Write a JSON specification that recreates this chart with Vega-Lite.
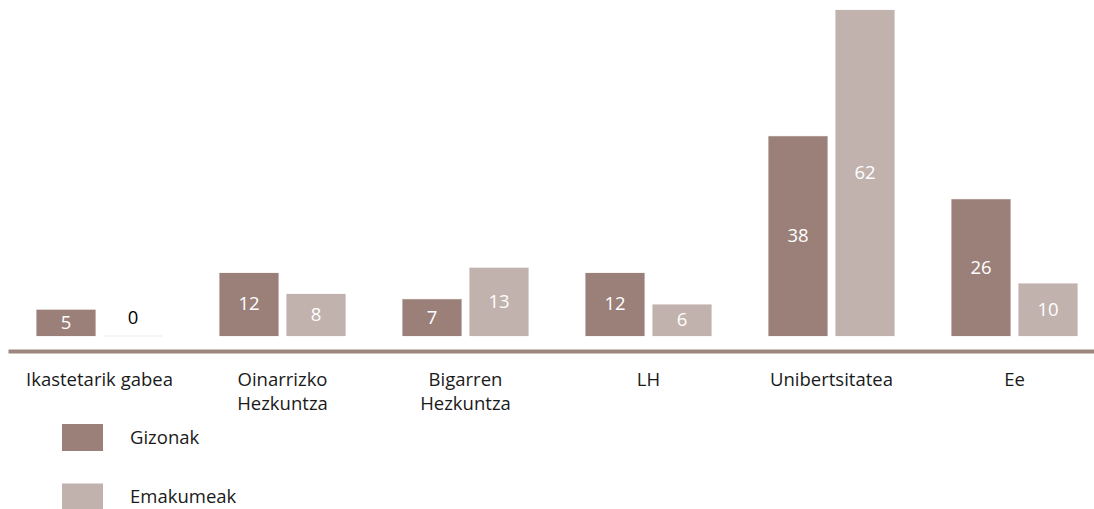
{
  "$schema": "https://vega.github.io/schema/vega-lite/v6.json",
  "width": 1086,
  "height": 326,
  "autosize": "none",
  "padding": {"left": 8, "top": 10, "right": 0, "bottom": 173},
  "background": "white",
  "config": {
    "view": {"stroke": null},
    "font": "Open Sans",
    "text": {"font": "Open Sans"}
  },
  "data": {
    "values": [
      {"maila": "Ikastetarik gabea", "sexua": "Gizonak", "v": 5},
      {"maila": "Ikastetarik gabea", "sexua": "Emakumeak", "v": 0},
      {"maila": "Oinarrizko Hezkuntza", "sexua": "Gizonak", "v": 12},
      {"maila": "Oinarrizko Hezkuntza", "sexua": "Emakumeak", "v": 8},
      {"maila": "Bigarren Hezkuntza", "sexua": "Gizonak", "v": 7},
      {"maila": "Bigarren Hezkuntza", "sexua": "Emakumeak", "v": 13},
      {"maila": "LH", "sexua": "Gizonak", "v": 12},
      {"maila": "LH", "sexua": "Emakumeak", "v": 6},
      {"maila": "Unibertsitatea", "sexua": "Gizonak", "v": 38},
      {"maila": "Unibertsitatea", "sexua": "Emakumeak", "v": 62},
      {"maila": "Ee", "sexua": "Gizonak", "v": 26},
      {"maila": "Ee", "sexua": "Emakumeak", "v": 10}
    ]
  },
  "encoding": {
    "x": {
      "field": "maila",
      "type": "nominal",
      "sort": null,
      "scale": {"paddingInner": 0, "paddingOuter": 0, "range": [0, 1098]},
      "axis": {
        "title": null,
        "offset": 15,
        "domainColor": "#9d8580",
        "domainWidth": 4,
        "ticks": false,
        "labelAngle": 0,
        "labelFont": "Open Sans",
        "labelFontSize": 18.5,
        "labelColor": "#1a1a1a",
        "labelPadding": 19,
        "labelLineHeight": 24,
        "labelExpr": "datum.value == 'Ikastetarik gabea' ? datum.value : split(datum.value, ' ')"
      }
    },
    "xOffset": {
      "field": "sexua",
      "type": "nominal",
      "sort": ["Gizonak", "Emakumeak"],
      "scale": {"paddingInner": 0.119, "paddingOuter": 0.425}
    }
  },
  "layer": [
    {
      "mark": {"type": "bar", "strokeWidth": 0.5, "strokeOpacity": 0.3},
      "encoding": {
        "y": {
          "field": "v",
          "type": "quantitative",
          "scale": {"domain": [0, 62], "nice": false},
          "axis": null
        },
        "color": {
          "field": "sexua",
          "type": "nominal",
          "sort": ["Gizonak", "Emakumeak"],
          "scale": {"domain": ["Gizonak", "Emakumeak"], "range": ["#9b7f79", "#c2b2ae"]},
          "legend": {
            "title": null,
            "orient": "none",
            "legendX": 54,
            "legendY": 407,
            "direction": "vertical",
            "symbolType": "M-1,-0.66H1V0.66H-1Z",
            "symbolSize": 1681,
            "symbolStrokeWidth": 0,
            "labelFont": "Open Sans",
            "labelFontSize": 18.5,
            "labelColor": "#1a1a1a",
            "labelOffset": 27,
            "rowPadding": 24.5
          }
        },
        "stroke": {
          "field": "sexua",
          "type": "nominal",
          "scale": {"domain": ["Gizonak", "Emakumeak"], "range": ["#9b7f79", "#c2b2ae"]},
          "legend": null
        }
      }
    },
    {
      "transform": [
        {"filter": "datum.v > 0"},
        {"calculate": "datum.v / 2", "as": "mid"}
      ],
      "mark": {"type": "text", "color": "white", "fontSize": 18.5, "baseline": "middle", "font": "Open Sans"},
      "encoding": {
        "y": {"field": "mid", "type": "quantitative"},
        "text": {"field": "v", "type": "quantitative"}
      }
    },
    {
      "transform": [{"filter": "datum.v == 0"}],
      "mark": {"type": "text", "color": "black", "fontSize": 18.5, "baseline": "middle", "dy": -18, "font": "Open Sans"},
      "encoding": {
        "y": {"field": "v", "type": "quantitative"},
        "text": {"field": "v", "type": "quantitative"}
      }
    }
  ]
}
